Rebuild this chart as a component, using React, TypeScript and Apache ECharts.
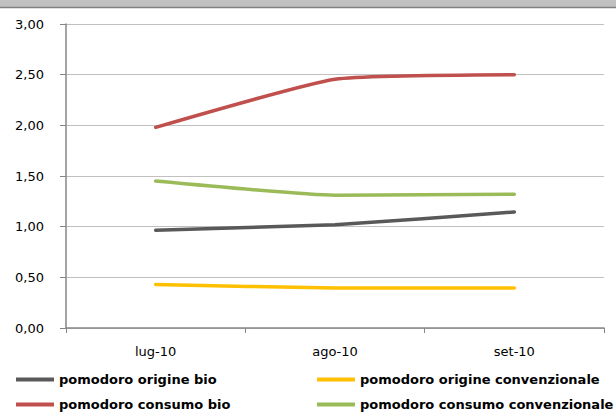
import React, { useEffect, useRef } from "react";
import * as echarts from "echarts";

const categories = ["lug-10", "ago-10", "set-10"];
const origineBio = [0.965, 1.02, 1.145];
const origineConv = [0.43, 0.395, 0.395];
const consumoBio = [1.98, 2.455, 2.5];
const consumoConv = [1.45, 1.31, 1.32];
const seriesNames = [
  "pomodoro origine bio",
  "pomodoro origine convenzionale",
  "pomodoro consumo bio",
  "pomodoro consumo convenzionale",
];
const seriesColors = ["#595959", "#ffc000", "#c0504d", "#9bbb59"];

const FONT = "DejaVu Sans";

export default function App() {
  const ref = useRef<HTMLDivElement>(null);
  useEffect(() => {
    if (!ref.current) return;
    const chart = echarts.init(ref.current, undefined, { renderer: "svg" });
    const values = [origineBio, origineConv, consumoBio, consumoConv];
    const legendCommon = {
      orient: "vertical" as const,
      top: 373,
      height: 46,
      padding: 0,
      itemGap: 12,
      itemWidth: 38,
      itemHeight: 4,
      icon: "rect",
      textStyle: { fontFamily: FONT, fontSize: 13, fontWeight: "bold" as const, color: "#000" },
    };
    chart.setOption({
      animation: false,
      backgroundColor: "#ffffff",
      graphic: [
        { type: "rect", shape: { x: 0, y: 0, width: 616, height: 6.5 }, style: { fill: "#c0c0c0" } },
        { type: "rect", shape: { x: 0, y: 6.5, width: 616, height: 1.7 }, style: { fill: "#808080" } },
      ],
      legend: [
        { ...legendCommon, left: 16, data: [seriesNames[0], seriesNames[2]] },
        { ...legendCommon, left: 317, data: [seriesNames[1], seriesNames[3]] },
      ],
      grid: { left: 66, right: 12, top: 24, bottom: 91, containLabel: false },
      xAxis: {
        type: "category",
        data: categories,
        boundaryGap: true,
        axisLine: { show: true, lineStyle: { color: "#868686", width: 1.5 } },
        axisTick: { show: true, alignWithLabel: false, length: 5, lineStyle: { color: "#868686" } },
        axisLabel: { fontFamily: FONT, fontSize: 13, color: "#000", margin: 17 },
        splitLine: { show: false },
      },
      yAxis: {
        type: "value",
        min: 0,
        max: 3,
        interval: 0.5,
        axisLine: { show: true, lineStyle: { color: "#868686", width: 1.5 } },
        axisTick: { show: true, length: 6, lineStyle: { color: "#868686" } },
        axisLabel: {
          fontFamily: FONT,
          fontSize: 13,
          color: "#000",
          margin: 22,
          formatter: (v: number) => v.toFixed(2).replace(".", ","),
        },
        splitLine: { show: true, lineStyle: { color: "#c0c0c0", width: 1 } },
      },
      series: seriesNames.map((name, i) => ({
        name,
        type: "line",
        data: values[i],
        smooth: 0.15,
        symbol: "none",
        color: seriesColors[i],
        lineStyle: { width: 3.5, color: seriesColors[i], cap: "round" },
        itemStyle: { color: seriesColors[i] },
      })),
    });
    return () => chart.dispose();
  }, []);
  return (
    <div
      ref={ref}
      style={{ position: "fixed", left: 0, top: 0, width: 616, height: 419 }}
    />
  );
}
